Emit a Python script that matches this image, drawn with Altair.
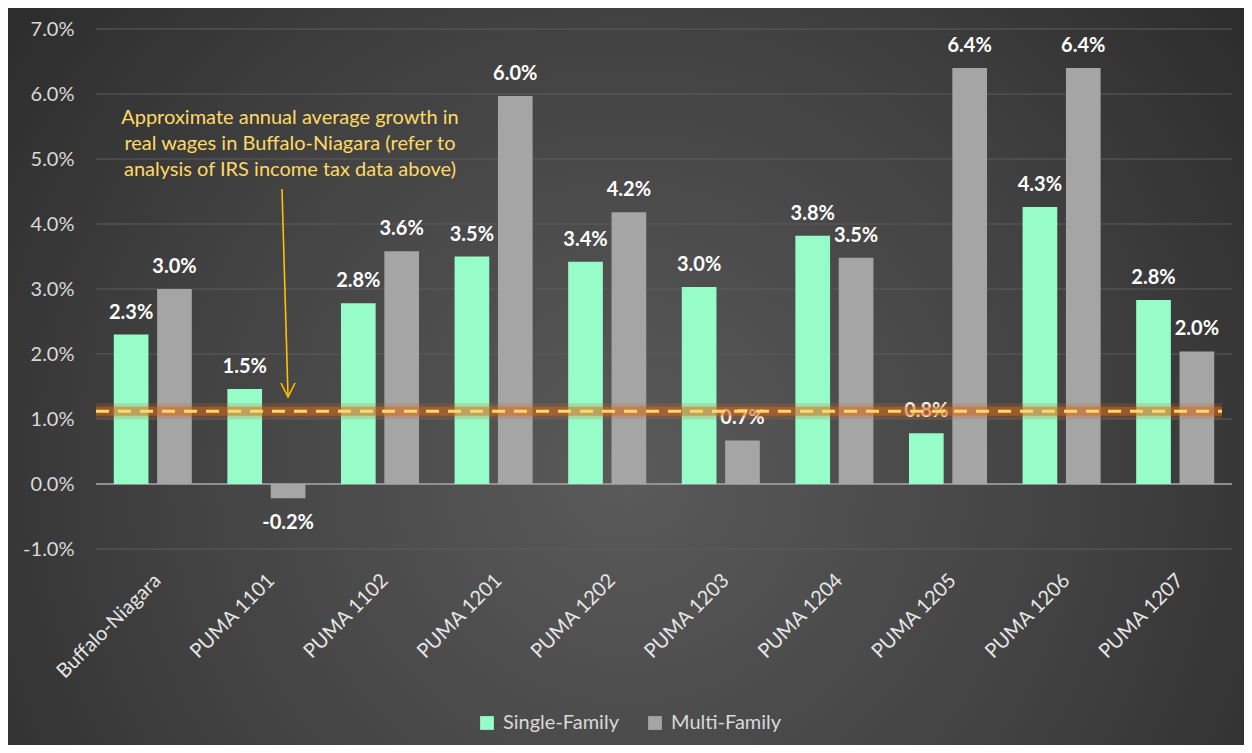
import altair as alt
import pandas as pd

categories = ["Buffalo-Niagara", "PUMA 1101", "PUMA 1102", "PUMA 1201", "PUMA 1202",
              "PUMA 1203", "PUMA 1204", "PUMA 1205", "PUMA 1206", "PUMA 1207"]
series = ["Single-Family", "Multi-Family"]
single_family = [2.3, 1.46, 2.78, 3.5, 3.42, 3.03, 3.82, 0.78, 4.26, 2.83]
multi_family = [3.0, -0.22, 3.58, 5.97, 4.18, 0.67, 3.48, 6.4, 6.4, 2.04]
y_ticks = [-1, 0, 1, 2, 3, 4, 5, 6, 7]
wage_growth = 1.12
note_lines = ["Approximate annual average growth in",
              "real wages in Buffalo-Niagara (refer to",
              "analysis of IRS income tax data above)"]

rows = []
for i, c in enumerate(categories):
    rows.append({"cat": c, "series": series[0], "value": single_family[i]})
    rows.append({"cat": c, "series": series[1], "value": multi_family[i]})
df = pd.DataFrame(rows)
df["label"] = df["value"].map(lambda v: f"{v:.1f}%")

W, H = 1136, 520
PAD = {"left": 88, "top": 21, "right": 12, "bottom": 196}
FONT = "Lato"

yscale = alt.Scale(domain=[-1, 7], nice=False, zero=False)
yaxis = alt.Axis(title=None, values=y_ticks, grid=False, domain=False, ticks=False,
                 labelExpr="replace(format(datum.value, '.1f'), '\u2212', '-') + '%'",
                 labelFontSize=20, labelColor="#d9d9d9", labelFont=FONT,
                 labelPadding=22, zindex=1)


def Y(field):
    return alt.Y(field, scale=yscale, axis=yaxis)


xenc = alt.X("cat:N", sort=categories,
             scale=alt.Scale(paddingInner=0.313, paddingOuter=0.1565),
             axis=alt.Axis(title=None, labelAngle=315, labelAlign="right",
                           labelBaseline="top", labelPadding=21, labelOffset=-2,
                           labelFontSize=20, labelColor="#e6e6e6", labelFont=FONT,
                           ticks=False, domain=False, grid=False, zindex=1,
                           labelOverlap=False))
xoff = alt.XOffset("series:N", sort=series, scale=alt.Scale(paddingInner=0.2))

bg = alt.Chart(pd.DataFrame({"k": [0]})).mark_rect(
    color={"gradient": "radial",
           "stops": [{"offset": 0, "color": "#5a5a5a"},
                     {"offset": 0.5, "color": "#414141"},
                     {"offset": 1, "color": "#222222"}],
           "x1": 0.5, "y1": 0.58, "r1": 0, "x2": 0.5, "y2": 0.58, "r2": 0.75}
).encode(
    x=alt.value(-PAD["left"]), x2=alt.value(W + PAD["right"]),
    y=alt.value(-PAD["top"]), y2=alt.value(H + PAD["bottom"])
)

grid = alt.Chart(pd.DataFrame({"t": y_ticks})).mark_rule(
    color="#5c5c5c", strokeWidth=1
).encode(y=Y("t:Q"), x=alt.value(0), x2=alt.value(W))

zero = alt.Chart(pd.DataFrame({"t": [0]})).mark_rule(
    color="#a6a6a6", strokeWidth=1.5
).encode(y=Y("t:Q"), x=alt.value(0), x2=alt.value(W))

bars = alt.Chart(df).mark_bar().encode(
    x=xenc, xOffset=xoff,
    y=Y("value:Q"),
    y2=alt.datum(0),
    color=alt.Color("series:N", sort=series,
                    scale=alt.Scale(domain=series, range=["#96FDC8", "#A5A5A5"]),
                    legend=alt.Legend(title=None, orient="none", direction="horizontal",
                                      legendX=381, legendY=684, labelFontSize=20,
                                      labelColor="#d9d9d9", labelFont=FONT,
                                      symbolType="square", symbolSize=190,
                                      symbolStrokeWidth=0, labelOffset=6,
                                      columnPadding=26, padding=0, zindex=1))
)

lab_pos = alt.Chart(df).transform_filter("datum.value >= 0").mark_text(
    font=FONT, fontSize=20, fontWeight="bold", color="#ffffff",
    baseline="middle", dy=-22
).encode(x=xenc, xOffset=xoff, y=Y("value:Q"), text="label:N")

lab_neg = alt.Chart(df).transform_filter("datum.value < 0").mark_text(
    font=FONT, fontSize=20, fontWeight="bold", color="#ffffff",
    baseline="middle", dy=25
).encode(x=xenc, xOffset=xoff, y=Y("value:Q"), text="label:N")

line_df = pd.DataFrame({"t": [wage_growth]})
glow_outer = alt.Chart(line_df).mark_rule(color="#D2691E", strokeWidth=16, opacity=0.22).encode(
    y=Y("t:Q"), x=alt.value(0), x2=alt.value(1126))
glow_inner = alt.Chart(line_df).mark_rule(color="#D2691E", strokeWidth=9, opacity=0.5).encode(
    y=Y("t:Q"), x=alt.value(0), x2=alt.value(1126))
dash = alt.Chart(line_df).mark_rule(color="#FFD966", strokeWidth=3, strokeDash=[13, 9]).encode(
    y=Y("t:Q"), x=alt.value(0), x2=alt.value(1126))

note = alt.Chart(pd.DataFrame({"k": [0]})).mark_text(
    font=FONT, fontSize=20, color="#FFD966", align="center", baseline="top", lineHeight=26
).encode(x=alt.value(194), y=alt.value(79), text=alt.value(note_lines))

arrow_line = alt.Chart(pd.DataFrame({"k": [0]})).mark_rule(color="#FFC000", strokeWidth=1.6).encode(
    x=alt.value(186), x2=alt.value(192), y=alt.value(160), y2=alt.value(367))
arrow_head = alt.Chart(pd.DataFrame({"k": [0]})).mark_point(
    shape="M-0.5,-1L0,0L0.5,-1", filled=False, color="#FFC000", strokeWidth=1.6,
    size=784, opacity=1
).encode(x=alt.value(192), y=alt.value(368))

chart = alt.layer(
    bg, grid, zero, bars, lab_pos, lab_neg, glow_outer, glow_inner, dash,
    note, arrow_line, arrow_head
).properties(
    width=W, height=H,
    autosize=alt.AutoSizeParams(type="none"),
    padding=PAD,
    background="#2b2b2b"
).configure_view(stroke=None)

chart.save("out.html", embed_options={"renderer": "svg", "actions": False})
